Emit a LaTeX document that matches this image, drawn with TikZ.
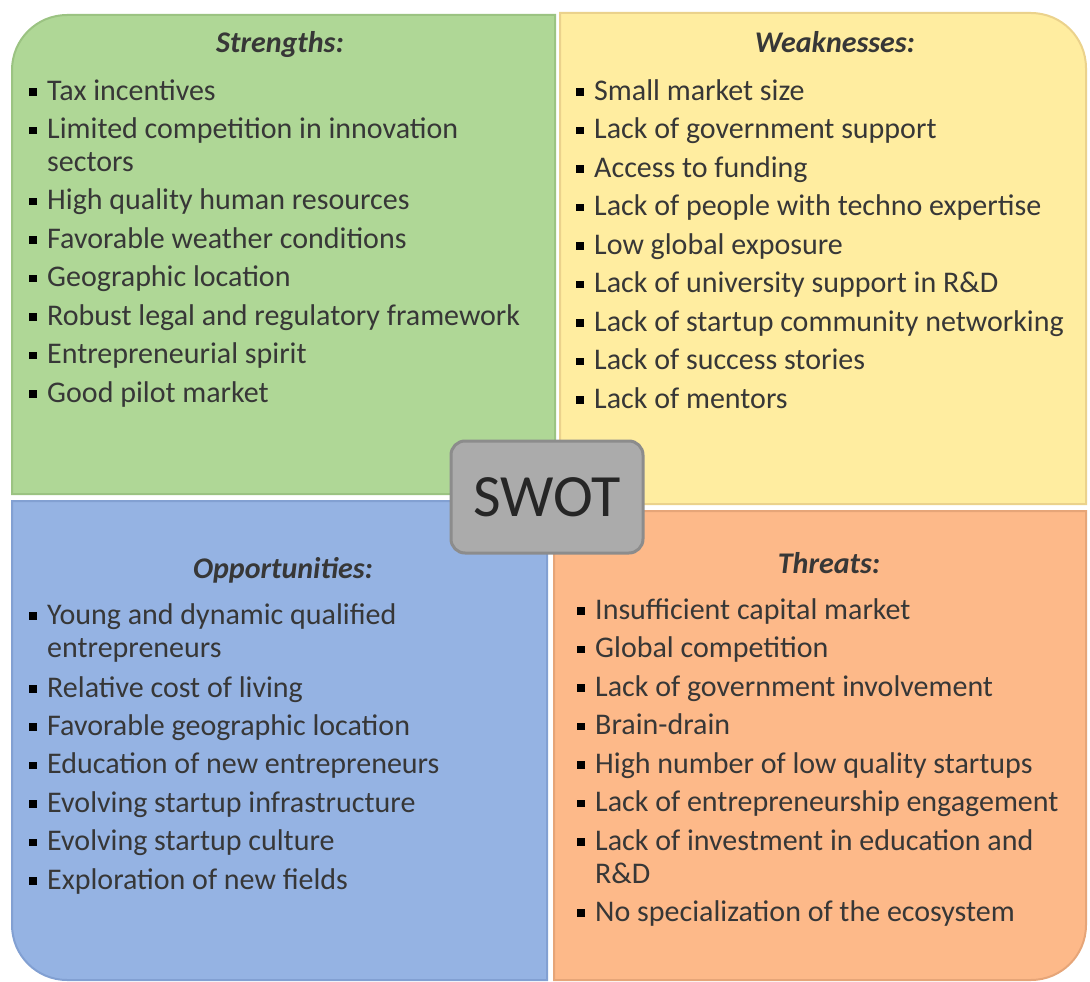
\documentclass[tikz,border=0pt]{standalone}
\usepackage{fontspec}
\setmainfont{Carlito}
\definecolor{qgreen}{RGB}{175,215,150}
\definecolor{qgreenD}{RGB}{155,195,130}
\definecolor{qyellow}{RGB}{255,237,160}
\definecolor{qyellowD}{RGB}{235,210,140}
\definecolor{qblue}{RGB}{149,179,227}
\definecolor{qblueD}{RGB}{130,160,210}
\definecolor{qorange}{RGB}{253,185,137}
\definecolor{qorangeD}{RGB}{230,165,120}
\definecolor{swotfill}{RGB}{171,171,171}
\definecolor{swotdraw}{RGB}{140,140,140}
\definecolor{txt}{RGB}{55,55,55}
\newcommand\bodyfont{\fontsize{30}{33}\selectfont}
\newcommand\swotitem[4]{%
  \node[bulnode] (#1-b) at (#2, #3-8) {};
  \node[itm] (#1) at (#2+14, #3) {#4};}
\newcommand\swotcont[4]{%
  \node[itm] (#1) at (#2+14, #3) {#4};}
\begin{document}
\begin{tikzpicture}[x=1pt,y=1pt,yscale=-1,
  itm/.style={anchor=base west, inner sep=0pt, font=\bodyfont, text=txt},
  ttl/.style={anchor=base, inner sep=0pt, font=\bodyfont\bfseries\itshape, text=txt},
  bulnode/.style={fill=black, inner sep=0pt, minimum size=7.5pt, draw=none},
  quad/.style={line width=2pt}]
\useasboundingbox (0,0) rectangle (1090,982);
\fill[white] (0,0) rectangle (1090,982);
% quadrants
\draw[quad, fill=qgreen, draw=qgreenD] (555,494) -- (12,494) [rounded corners=55pt] -- (12,15) [sharp corners] -- (555,15) -- cycle;
\draw[quad, fill=qyellow, draw=qyellowD] (560,504) -- (560,13) [rounded corners=55pt] -- (1086,13) [sharp corners] -- (1086,504) -- cycle;
\draw[quad, fill=qblue, draw=qblueD] (547,501) -- (12,501) [rounded corners=55pt] -- (12,980) [sharp corners] -- (547,980) -- cycle;
\draw[quad, fill=qorange, draw=qorangeD] (554,511) -- (1086,511) [rounded corners=55pt] -- (1086,980) [sharp corners] -- (554,980) -- cycle;
% titles
\node[ttl] (tS) at (280,53) {Strengths:};
\node[ttl] (tW) at (835,53) {Weaknesses:};
\node[ttl] (tO) at (283,578) {Opportunities:};
\node[ttl] (tT) at (829,573) {Threats:};
% strengths
\swotitem{s1}{33}{100}{Tax incentives}
\swotitem{s2}{33}{138.5}{Limited competition in innovation}
\swotcont{s2w}{33}{171}{sectors}
\swotitem{s3}{33}{209.5}{High quality human resources}
\swotitem{s4}{33}{248}{Favorable weather conditions}
\swotitem{s5}{33}{286.5}{Geographic location}
\swotitem{s6}{33}{325}{Robust legal and regulatory framework}
\swotitem{s7}{33}{363.5}{Entrepreneurial spirit}
\swotitem{s8}{33}{402}{Good pilot market}
% weaknesses
\swotitem{w1}{580}{100}{Small market size}
\swotitem{w2}{580}{138.5}{Lack of government support}
\swotitem{w3}{580}{177}{Access to funding}
\swotitem{w4}{580}{215.5}{Lack of people with techno expertise}
\swotitem{w5}{580}{254}{Low global exposure}
\swotitem{w6}{580}{292.5}{Lack of university support in R\&D}
\swotitem{w7}{580}{331}{Lack of startup community networking}
\swotitem{w8}{580}{369.5}{Lack of success stories}
\swotitem{w9}{580}{408}{Lack of mentors}
% opportunities
\swotitem{o1}{33}{624}{Young and dynamic qualified}
\swotcont{o1w}{33}{657.5}{entrepreneurs}
\swotitem{o2}{33}{697}{Relative cost of living}
\swotitem{o3}{33}{735}{Favorable geographic location}
\swotitem{o4}{33}{773.5}{Education of new entrepreneurs}
\swotitem{o5}{33}{812}{Evolving startup infrastructure}
\swotitem{o6}{33}{850.5}{Evolving startup culture}
\swotitem{o7}{33}{889}{Exploration of new fields}
% threats
\swotitem{t1}{581}{619}{Insufficient capital market}
\swotitem{t2}{581}{657.5}{Global competition}
\swotitem{t3}{581}{696}{Lack of government involvement}
\swotitem{t4}{581}{734.5}{Brain-drain}
\swotitem{t5}{581}{773}{High number of low quality startups}
\swotitem{t6}{581}{811.5}{Lack of entrepreneurship engagement}
\swotitem{t7}{581}{850}{Lack of investment in education and}
\swotcont{t7w}{581}{883}{R\&D}
\swotitem{t8}{581}{921}{No specialization of the ecosystem}
% center
\node[draw=swotdraw, fill=swotfill, line width=3pt, rounded corners=14pt,
  minimum width=192pt, minimum height=112pt, inner sep=0pt,
  font=\fontsize{60}{60}\selectfont, text=black!85] (swot) at (547,497) {SWOT};
\end{tikzpicture}
\end{document}
